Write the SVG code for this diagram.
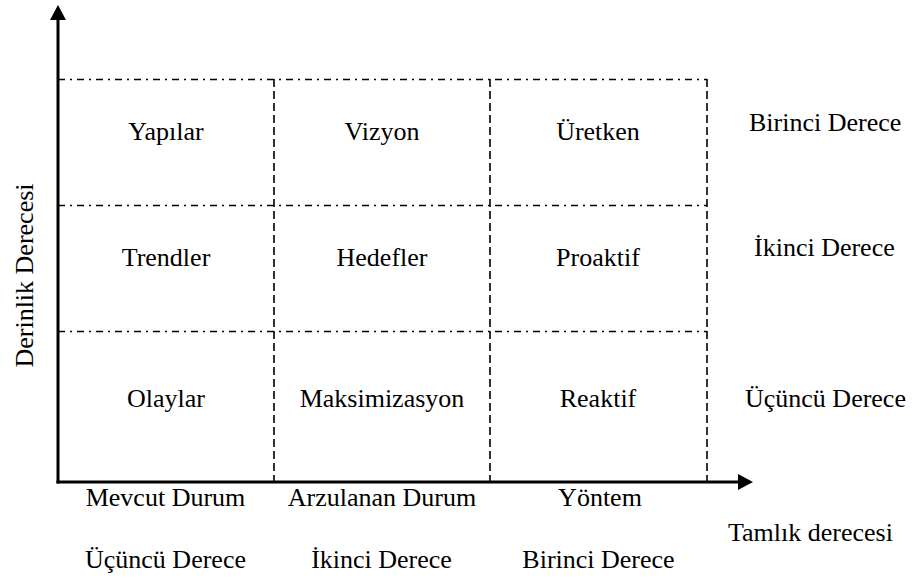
<svg xmlns="http://www.w3.org/2000/svg" width="913" height="581" viewBox="0 0 913 581" font-family="'Liberation Serif', 'Times New Roman', 'DejaVu Serif', serif">
  <style>
    text { font-family: "Liberation Serif", "Times New Roman", "DejaVu Serif", serif; font-size: 26px; fill: #000; }
    .c { text-anchor: middle; }
    .axis { stroke: #000; stroke-width: 3; fill: none; }
    .row { stroke: #000; stroke-width: 1.6; stroke-dasharray: 7 5 2 5; fill: none; }
    .col { stroke: #000; stroke-width: 1.6; stroke-dasharray: 8 4; fill: none; }
  </style>

  <!-- grid and axes -->
  <g id="connectors">
    <line class="row" x1="58" y1="79.5" x2="707" y2="79.5"/>
    <line class="row" x1="58" y1="205.5" x2="707" y2="205.5"/>
    <line class="row" x1="58" y1="331.5" x2="707" y2="331.5"/>
    <line class="col" x1="274" y1="79" x2="274" y2="481"/>
    <line class="col" x1="490" y1="79" x2="490" y2="481"/>
    <line class="col" x1="707" y1="79" x2="707" y2="481"/>
    <line class="axis" x1="58" y1="483.5" x2="58" y2="18"/>
    <line class="axis" x1="56.5" y1="482" x2="741" y2="482"/>
    <polygon points="58,5 66,20 50,20" fill="#000"/>
    <polygon points="753,482 738,474 738,490" fill="#000"/>
  </g>

  <!-- cells -->
  <g id="cell-yapilar"><text class="c" x="166" y="140">Yapılar</text></g>
  <g id="cell-vizyon"><text class="c" x="382" y="140">Vizyon</text></g>
  <g id="cell-uretken"><text class="c" x="598" y="140">Üretken</text></g>
  <g id="cell-trendler"><text class="c" x="166" y="266">Trendler</text></g>
  <g id="cell-hedefler"><text class="c" x="382" y="266">Hedefler</text></g>
  <g id="cell-proaktif"><text class="c" x="598" y="266">Proaktif</text></g>
  <g id="cell-olaylar"><text class="c" x="166" y="407">Olaylar</text></g>
  <g id="cell-maksimizasyon"><text class="c" x="382" y="407">Maksimizasyon</text></g>
  <g id="cell-reaktif"><text class="c" x="598" y="407">Reaktif</text></g>

  <!-- row labels -->
  <g id="row-birinci"><text x="749" y="131">Birinci Derece</text></g>
  <g id="row-ikinci"><text x="754" y="256">İkinci Derece</text></g>
  <g id="row-ucuncu"><text x="745" y="407">Üçüncü Derece</text></g>

  <!-- column labels -->
  <g id="col-mevcut"><text class="c" x="165.5" y="506">Mevcut Durum</text></g>
  <g id="col-arzulanan"><text class="c" x="382" y="506">Arzulanan Durum</text></g>
  <g id="col-yontem"><text class="c" x="600" y="506">Yöntem</text></g>
  <g id="col-ucuncu"><text class="c" x="165.5" y="568">Üçüncü Derece</text></g>
  <g id="col-ikinci"><text class="c" x="381.5" y="568">İkinci Derece</text></g>
  <g id="col-birinci"><text class="c" x="598.5" y="568">Birinci Derece</text></g>

  <!-- axis titles -->
  <g id="axis-x-title"><text x="728" y="541">Tamlık derecesi</text></g>
  <g id="axis-y-title"><text class="c" transform="translate(33,275.5) rotate(-90)">Derinlik Derecesi</text></g>
</svg>
